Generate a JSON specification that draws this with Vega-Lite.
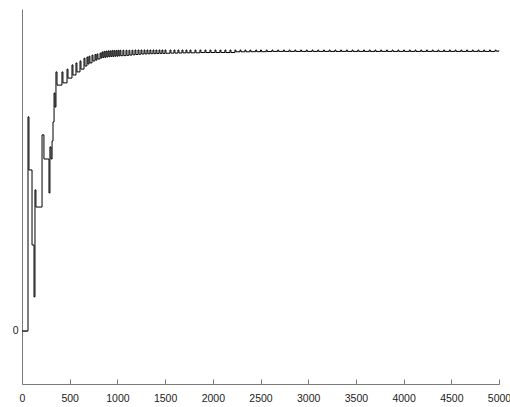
{
  "$schema": "https://vega.github.io/schema/vega-lite/v6.json",
  "width": 477,
  "height": 375,
  "autosize": {"type": "none"},
  "padding": {"left": 22, "top": 9, "right": 11, "bottom": 23},
  "background": "white",
  "config": {
    "view": {"stroke": null},
    "axis": {
      "grid": false,
      "domainColor": "#7a7a7a",
      "tickColor": "#7a7a7a",
      "tickSize": -5,
      "labelFont": "Liberation Sans",
      "labelFontSize": 10.5,
      "labelColor": "#222222",
      "title": null
    }
  },
  "data": {
    "values": [
      {"x": 0, "y": 0}, {"x": 63, "y": 0.762}, {"x": 73, "y": 0.573}, {"x": 105, "y": 0.306},
      {"x": 126, "y": 0.121}, {"x": 136, "y": 0.502}, {"x": 146, "y": 0.441}, {"x": 210, "y": 0.698},
      {"x": 230, "y": 0.612}, {"x": 283, "y": 0.491}, {"x": 293, "y": 0.655}, {"x": 304, "y": 0.612},
      {"x": 315, "y": 0.676}, {"x": 325, "y": 0.744}, {"x": 336, "y": 0.847}, {"x": 346, "y": 0.797},
      {"x": 356, "y": 0.922}, {"x": 367, "y": 0.875}, {"x": 419, "y": 0.922}, {"x": 429, "y": 0.883},
      {"x": 472, "y": 0.932}, {"x": 482, "y": 0.9}, {"x": 524, "y": 0.947}, {"x": 534, "y": 0.911},
      {"x": 566, "y": 0.954}, {"x": 576, "y": 0.922}, {"x": 608, "y": 0.961}, {"x": 618, "y": 0.932},
      {"x": 650, "y": 0.971}, {"x": 660, "y": 0.943}, {"x": 681, "y": 0.975}, {"x": 691, "y": 0.95},
      {"x": 702, "y": 0.978}, {"x": 712, "y": 0.954}, {"x": 734, "y": 0.982}, {"x": 744, "y": 0.961},
      {"x": 765, "y": 0.984}, {"x": 775, "y": 0.964}, {"x": 786, "y": 0.986}, {"x": 796, "y": 0.968},
      {"x": 818, "y": 0.989}, {"x": 828, "y": 0.9715},
      {"x": 838, "y": 0.993}, {"x": 848, "y": 0.973}, {"x": 859, "y": 0.995}, {"x": 869, "y": 0.974},
      {"x": 880, "y": 0.996}, {"x": 890, "y": 0.975}, {"x": 901, "y": 0.997}, {"x": 911, "y": 0.976},
      {"x": 922, "y": 0.997}, {"x": 932, "y": 0.977}, {"x": 943, "y": 0.998}, {"x": 953, "y": 0.977},
      {"x": 964, "y": 0.998}, {"x": 974, "y": 0.978}, {"x": 985, "y": 0.998}, {"x": 995, "y": 0.978},
      {"x": 1006, "y": 0.999}, {"x": 1016, "y": 0.979}, {"x": 1027, "y": 0.999}, {"x": 1037, "y": 0.9797},
      {"x": 1058, "y": 0.999}, {"x": 1068, "y": 0.98}, {"x": 1090, "y": 0.999}, {"x": 1100, "y": 0.981},
      {"x": 1121, "y": 0.999}, {"x": 1131, "y": 0.982}, {"x": 1153, "y": 0.999}, {"x": 1163, "y": 0.983},
      {"x": 1184, "y": 1.0}, {"x": 1194, "y": 0.984}, {"x": 1216, "y": 1.0}, {"x": 1226, "y": 0.985},
      {"x": 1247, "y": 1.0}, {"x": 1257, "y": 0.9858}, {"x": 1279, "y": 1.0}, {"x": 1289, "y": 0.986},
      {"x": 1310, "y": 1.0}, {"x": 1320, "y": 0.9865}, {"x": 1341, "y": 1.0}, {"x": 1351, "y": 0.987},
      {"x": 1373, "y": 1.0}, {"x": 1383, "y": 0.987}, {"x": 1404, "y": 1.0}, {"x": 1414, "y": 0.9875},
      {"x": 1436, "y": 1.0}, {"x": 1446, "y": 0.988}, {"x": 1467, "y": 1.0}, {"x": 1477, "y": 0.988},
      {"x": 1499, "y": 1.0}, {"x": 1509, "y": 0.9885}, {"x": 1551, "y": 1.0}, {"x": 1561, "y": 0.989},
      {"x": 1593, "y": 1.0}, {"x": 1603, "y": 0.989}, {"x": 1635, "y": 1.0}, {"x": 1645, "y": 0.9895},
      {"x": 1677, "y": 1.0}, {"x": 1687, "y": 0.9897}, {"x": 1719, "y": 1.0}, {"x": 1729, "y": 0.99},
      {"x": 1761, "y": 1.0}, {"x": 1771, "y": 0.99}, {"x": 1813, "y": 1.0}, {"x": 1823, "y": 0.99},
      {"x": 1865, "y": 1.0}, {"x": 1875, "y": 0.991}, {"x": 1918, "y": 1.0}, {"x": 1928, "y": 0.991},
      {"x": 1970, "y": 1.0}, {"x": 1980, "y": 0.991}, {"x": 2023, "y": 1.0}, {"x": 2033, "y": 0.991},
      {"x": 2075, "y": 1.0}, {"x": 2085, "y": 0.991}, {"x": 2127, "y": 1.0}, {"x": 2137, "y": 0.991},
      {"x": 2180, "y": 1.0}, {"x": 2190, "y": 0.991}, {"x": 2232, "y": 1.0}, {"x": 2242, "y": 0.9936},
      {"x": 2285, "y": 1.0}, {"x": 2295, "y": 0.9936}, {"x": 2337, "y": 1.0}, {"x": 2347, "y": 0.9936},
      {"x": 2389, "y": 1.0}, {"x": 2399, "y": 0.994}, {"x": 2450, "y": 1.0}, {"x": 2460, "y": 0.994},
      {"x": 2500, "y": 1.0}, {"x": 2510, "y": 0.994}, {"x": 2560, "y": 1.0}, {"x": 2570, "y": 0.9945},
      {"x": 2620, "y": 1.0}, {"x": 2630, "y": 0.995}, {"x": 2680, "y": 1.0}, {"x": 2690, "y": 0.995},
      {"x": 2740, "y": 1.0}, {"x": 2750, "y": 0.995}, {"x": 2800, "y": 1.0}, {"x": 2810, "y": 0.995},
      {"x": 2860, "y": 1.0}, {"x": 2870, "y": 0.995}, {"x": 2920, "y": 1.0}, {"x": 2930, "y": 0.995},
      {"x": 2980, "y": 1.0}, {"x": 2990, "y": 0.995}, {"x": 3040, "y": 1.0}, {"x": 3050, "y": 0.995},
      {"x": 3100, "y": 1.0}, {"x": 3110, "y": 0.995}, {"x": 3160, "y": 1.0}, {"x": 3170, "y": 0.995},
      {"x": 3220, "y": 1.0}, {"x": 3230, "y": 0.995}, {"x": 3280, "y": 1.0}, {"x": 3290, "y": 0.995},
      {"x": 3340, "y": 1.0}, {"x": 3350, "y": 0.995}, {"x": 3400, "y": 1.0}, {"x": 3410, "y": 0.995},
      {"x": 3460, "y": 1.0}, {"x": 3470, "y": 0.995}, {"x": 3520, "y": 1.0}, {"x": 3530, "y": 0.995},
      {"x": 3580, "y": 1.0}, {"x": 3590, "y": 0.995}, {"x": 3640, "y": 1.0}, {"x": 3650, "y": 0.995},
      {"x": 3700, "y": 1.0}, {"x": 3710, "y": 0.995}, {"x": 3760, "y": 1.0}, {"x": 3770, "y": 0.995},
      {"x": 3820, "y": 1.0}, {"x": 3830, "y": 0.995}, {"x": 3880, "y": 1.0}, {"x": 3890, "y": 0.995},
      {"x": 3940, "y": 1.0}, {"x": 3950, "y": 0.995}, {"x": 4000, "y": 1.0}, {"x": 4010, "y": 0.995},
      {"x": 4060, "y": 1.0}, {"x": 4070, "y": 0.995}, {"x": 4120, "y": 1.0}, {"x": 4130, "y": 0.995},
      {"x": 4180, "y": 1.0}, {"x": 4190, "y": 0.995}, {"x": 4240, "y": 1.0}, {"x": 4250, "y": 0.995},
      {"x": 4300, "y": 1.0}, {"x": 4310, "y": 0.995}, {"x": 4360, "y": 1.0}, {"x": 4370, "y": 0.995},
      {"x": 4420, "y": 1.0}, {"x": 4430, "y": 0.995}, {"x": 4480, "y": 1.0}, {"x": 4490, "y": 0.995},
      {"x": 4540, "y": 1.0}, {"x": 4550, "y": 0.995}, {"x": 4600, "y": 1.0}, {"x": 4610, "y": 0.995},
      {"x": 4660, "y": 1.0}, {"x": 4670, "y": 0.995}, {"x": 4720, "y": 1.0}, {"x": 4730, "y": 0.995},
      {"x": 4780, "y": 1.0}, {"x": 4790, "y": 0.995}, {"x": 4840, "y": 1.0}, {"x": 4850, "y": 0.995},
      {"x": 4900, "y": 1.0}, {"x": 4910, "y": 0.995}, {"x": 4960, "y": 1.0}, {"x": 4970, "y": 0.996},
      {"x": 5000, "y": 0.998}
    ]
  },
  "mark": {"type": "line", "interpolate": "step-after", "color": "black", "strokeWidth": 1},
  "encoding": {
    "x": {
      "field": "x", "type": "quantitative",
      "scale": {"domain": [0, 5000], "nice": false, "zero": false},
      "axis": {"values": [0, 500, 1000, 1500, 2000, 2500, 3000, 3500, 4000, 4500, 5000], "format": "d", "labelPadding": 14, "labelFlush": false}
    },
    "y": {
      "field": "y", "type": "quantitative",
      "scale": {"domain": [-0.189, 1.146], "nice": false, "zero": false},
      "axis": {"values": [0], "format": "d", "labelPadding": 9}
    }
  }
}
